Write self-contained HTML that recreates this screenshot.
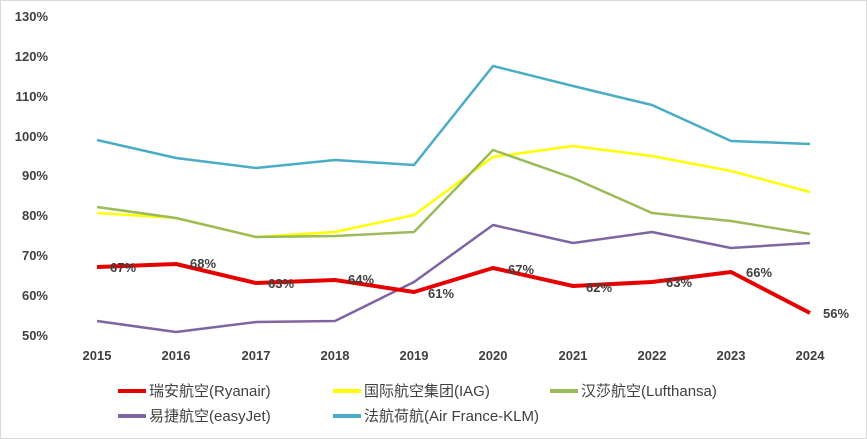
<!DOCTYPE html><html><head><style>body{margin:0;background:#fff}svg{display:block}text{font-family:"Liberation Sans","Noto Sans CJK SC",sans-serif}</style></head><body>
<svg width="867" height="439" viewBox="0 0 867 439">
<rect x="0.5" y="0.5" width="866" height="438" fill="#fff" stroke="#d9d9d9"/>
<g font-size="13" font-weight="bold" fill="#404040" text-anchor="end">
<text x="48" y="21">130%</text><text x="48" y="61">120%</text><text x="48" y="101">110%</text><text x="48" y="141">100%</text><text x="48" y="180">90%</text><text x="48" y="220">80%</text><text x="48" y="260">70%</text><text x="48" y="300">60%</text><text x="48" y="340">50%</text>
</g>
<g font-size="13" font-weight="bold" fill="#404040" text-anchor="middle">
<text x="97" y="360">2015</text><text x="176" y="360">2016</text><text x="256" y="360">2017</text><text x="335" y="360">2018</text><text x="414" y="360">2019</text><text x="493" y="360">2020</text><text x="573" y="360">2021</text><text x="652" y="360">2022</text><text x="731" y="360">2023</text><text x="810" y="360">2024</text>
</g>
<g fill="none" stroke-width="2.5" stroke-linejoin="round">
<polyline stroke="#4bacc6" points="97,140 176,158 256,168 335,160 414,165 493,66 573,86 652,105 731,141 810,144"/>
<polyline stroke="#ffff00" points="97,213 176,218 256,237 335,232 414,215 493,157 573,146 652,156 731,171 810,192"/>
<polyline stroke="#9bbb59" points="97,207 176,218 256,237 335,236 414,232 493,150 573,178 652,213 731,221 810,234"/>
<polyline stroke="#8064a2" points="97,321 176,332 256,322 335,321 414,282 493,225 573,243 652,232 731,248 810,243"/>
<polyline stroke="#e60000" stroke-width="4" points="97,267 176,264 256,283 335,280 414,292 493,268 573,286 652,282 731,272 810,313"/>
</g>
<g font-size="13" font-weight="bold" fill="#404040">
<text x="110" y="272">67%</text><text x="190" y="268">68%</text><text x="268" y="288">63%</text><text x="348" y="284">64%</text><text x="428" y="298">61%</text><text x="508" y="274">67%</text><text x="586" y="292">62%</text><text x="666" y="287">63%</text><text x="746" y="277">66%</text><text x="823" y="318">56%</text>
</g>
<g stroke-width="4">
<line x1="118" y1="391" x2="146" y2="391" stroke="#e60000"/>
<line x1="333" y1="391" x2="361" y2="391" stroke="#ffff00"/>
<line x1="550" y1="391" x2="578" y2="391" stroke="#9bbb59"/>
<line x1="118" y1="416" x2="146" y2="416" stroke="#8064a2"/>
<line x1="333" y1="416" x2="361" y2="416" stroke="#4bacc6"/>
</g>
<g font-size="15" fill="#404040">
<text x="149" y="396">瑞安航空(Ryanair)</text>
<text x="364" y="396">国际航空集团(IAG)</text>
<text x="581" y="396">汉莎航空(Lufthansa)</text>
<text x="149" y="421">易捷航空(easyJet)</text>
<text x="364" y="421">法航荷航(Air France-KLM)</text>
</g>
</svg></body></html>
